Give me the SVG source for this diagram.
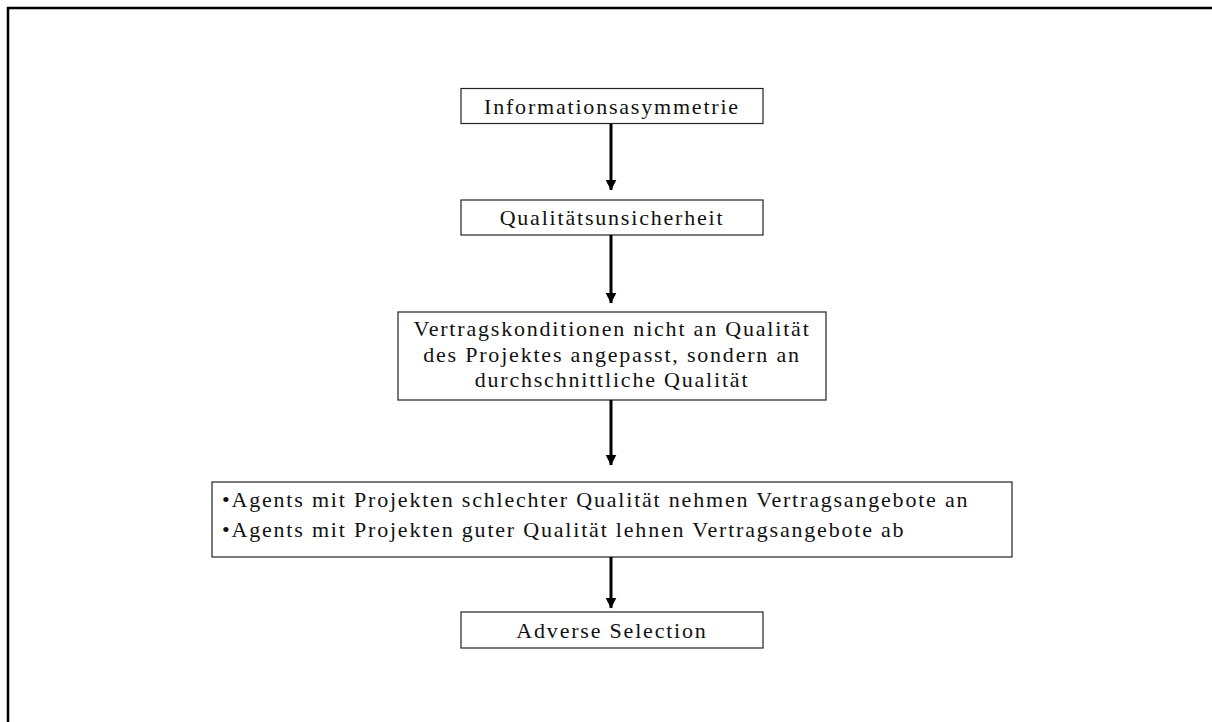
<svg xmlns="http://www.w3.org/2000/svg" width="1212" height="722" viewBox="0 0 1212 722">
  <defs>
    <style>
      .box { fill: #ffffff; stroke: #222222; stroke-width: 1.2; }
      .lbl { font-family: "Liberation Serif", "Times New Roman", serif; font-size: 22px; letter-spacing: 1.8px; fill: #111111; }
      .mid { text-anchor: middle; }
      .conn { stroke: #000000; stroke-width: 3; fill: none; marker-end: url(#head); }
    </style>
    <marker id="head" markerWidth="4" markerHeight="4" refX="3.4" refY="2" orient="auto" markerUnits="strokeWidth">
      <path d="M0,0.2 L3.6,2 L0,3.8 Z" fill="#000000"/>
    </marker>
  </defs>

  <rect width="1212" height="722" fill="#ffffff"/>
  <!-- outer frame -->
  <path d="M8,722 V8 H1212" fill="none" stroke="#000000" stroke-width="2.5"/>

  <g id="node-info">
    <rect class="box" x="461" y="88.5" width="302" height="35"/>
    <text class="lbl mid" x="612" y="114">Informationsasymmetrie</text>
  </g>

  <g id="node-quali">
    <rect class="box" x="461" y="200" width="302" height="35"/>
    <text class="lbl mid" x="612" y="225">Qualitätsunsicherheit</text>
  </g>

  <g id="node-vertrag">
    <rect class="box" x="398" y="312" width="428" height="88"/>
    <text class="lbl mid" x="612" y="336">Vertragskonditionen nicht an Qualität</text>
    <text class="lbl mid" x="612" y="362">des Projektes angepasst, sondern an</text>
    <text class="lbl mid" x="612" y="387">durchschnittliche Qualität</text>
  </g>

  <g id="node-agents">
    <rect class="box" x="212" y="482" width="800" height="75"/>
    <text class="lbl" x="222" y="507">•Agents mit Projekten schlechter Qualität nehmen Vertragsangebote an</text>
    <text class="lbl" x="222" y="537">•Agents mit Projekten guter Qualität lehnen Vertragsangebote ab</text>
  </g>

  <g id="node-adverse">
    <rect class="box" x="461" y="612" width="302" height="36"/>
    <text class="lbl mid" x="612" y="638">Adverse Selection</text>
  </g>

  <g id="connectors">
    <line class="conn" x1="611" y1="124" x2="611" y2="190"/>
    <line class="conn" x1="611" y1="235" x2="611" y2="303"/>
    <line class="conn" x1="611" y1="400" x2="611" y2="465"/>
    <line class="conn" x1="611" y1="557" x2="611" y2="608"/>
  </g>
</svg>
